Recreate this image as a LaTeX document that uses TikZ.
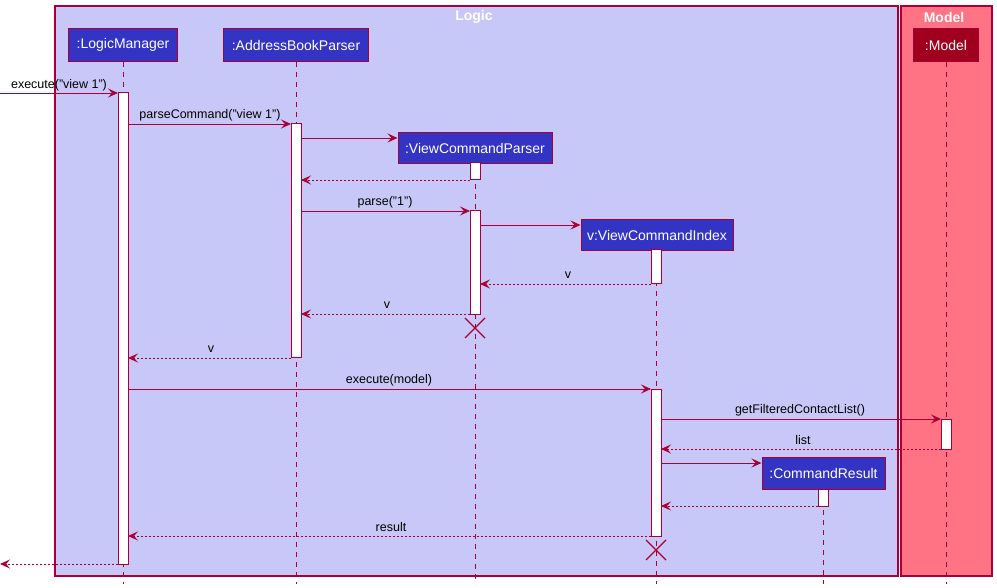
\documentclass[tikz,border=0pt]{standalone}
\usepackage{fontspec}
\setmainfont{Liberation Sans}
\usetikzlibrary{arrows.meta}
\definecolor{bord}{HTML}{A80036}
\definecolor{logicbg}{HTML}{C8C8F8}
\definecolor{modelbg}{HTML}{FF7385}
\definecolor{partblue}{HTML}{3333C4}
\definecolor{partred}{HTML}{A0001E}
\tikzset{
  grp/.style={draw=bord, line width=1.1pt},
  part/.style={draw=bord, line width=1pt, fill=partblue, text=white, font=\fontsize{14}{16}\selectfont, inner sep=0pt, minimum height=33pt, anchor=north},
  life/.style={draw=bord, line width=0.9pt, dash pattern=on 5pt off 5pt},
  actbar/.style={draw=bord, line width=1pt, fill=white},
  msg/.style={draw=bord, line width=0.9pt, -{Stealth[length=10pt,width=9pt,inset=4pt]}},
  ret/.style={msg, dash pattern=on 2pt off 2pt},
  lbl/.style={font=\fontsize{12.5}{14}\selectfont, text=black, inner sep=0pt},
  xmark/.style={draw=bord, line width=1.3pt},
  grptitle/.style={font=\bfseries\fontsize{14}{16}\selectfont, text=white, inner sep=0pt}
}
\begin{document}
\begin{tikzpicture}[x=1pt,y=-1pt]
\useasboundingbox (0,0) rectangle (997,588);
% groups
\draw[grp, fill=logicbg] (55,6) rectangle (898,576);
\draw[grp, fill=modelbg] (901,6) rectangle (992,576);
\node[grptitle] (tlogic) at (474,17) {Logic};
\node[grptitle] (tmodel) at (944,17) {Model};
% participants
\node[part, minimum width=109pt] (lm) at (123,28) {:LogicManager};
\node[part, minimum width=145pt] (abp) at (296,28) {:AddressBookParser};
\node[part, minimum width=154pt, minimum height=31pt] (vcp) at (475,132) {:ViewCommandParser};
\node[part, minimum width=152pt, minimum height=31pt] (vci) at (657,219) {v:ViewCommandIndex};
\node[part, minimum width=65pt, fill=partred] (mdl) at (946,28) {:Model};
\node[part, minimum width=123pt, minimum height=32pt] (cr) at (823.5,457) {:CommandResult};
% lifelines
\coordinate (lmE) at (123,584);
\coordinate (abpE) at (296,584);
\coordinate (vcpE) at (475,584);
\coordinate (vciE) at (656,584);
\coordinate (mdlE) at (946,584);
\coordinate (crE) at (823,584);
\draw[life] (lm.south -| lmE) -- (lmE);
\draw[life] (abp.south -| abpE) -- (abpE);
\draw[life] (vcp.south -| vcpE) -- (vcpE);
\draw[life] (vci.south -| vciE) -- (vciE);
\draw[life] (mdl.south -| mdlE) -- (mdlE);
\draw[life] (cr.south -| crE) -- (crE);
% activations
\draw[actbar] (118,93) rectangle (128,564);
\draw[actbar] (291,124) rectangle (301,358);
\draw[actbar] (470,163) rectangle (480,180);
\draw[actbar] (470,211) rectangle (480,315);
\draw[actbar] (651,250) rectangle (661,284);
\draw[actbar] (651,389) rectangle (661,536);
\draw[actbar] (941,419) rectangle (951,449);
\draw[actbar] (818,489) rectangle (828,506);
% message end points
\coordinate (m1a) at (0,93);    \coordinate (m1b) at (118,93);
\coordinate (m2a) at (128,124); \coordinate (m2b) at (291,124);
\coordinate (m3a) at (301,138);
\coordinate (m4a) at (470,180); \coordinate (m4b) at (301,180);
\coordinate (m5a) at (301,211); \coordinate (m5b) at (470,211);
\coordinate (m6a) at (480,225);
\coordinate (m7a) at (651,284); \coordinate (m7b) at (480,284);
\coordinate (m8a) at (470,314); \coordinate (m8b) at (301,314);
\coordinate (m9a) at (291,358); \coordinate (m9b) at (128,358);
\coordinate (m10a) at (128,389); \coordinate (m10b) at (651,389);
\coordinate (m11a) at (661,419); \coordinate (m11b) at (941,419);
\coordinate (m12a) at (941,449); \coordinate (m12b) at (661,449);
\coordinate (m13a) at (661,463);
\coordinate (m14a) at (818,506); \coordinate (m14b) at (661,506);
\coordinate (m15a) at (651,536); \coordinate (m15b) at (128,536);
\coordinate (m16a) at (118,564); \coordinate (m16b) at (0,564);
% messages
\draw[msg] (m1a) -- (m1b);
\node[lbl] (l1) at (59,85) {execute("view 1")};
\draw[msg] (m2a) -- (m2b);
\node[lbl] (l2) at (210,115) {parseCommand("view 1")};
\draw[msg] (m3a) -- (m3a -| vcp.west);
\draw[ret] (m4a) -- (m4b);
\draw[msg] (m5a) -- (m5b);
\node[lbl] (l5) at (385,202) {parse("1")};
\draw[msg] (m6a) -- (m6a -| vci.west);
\draw[ret] (m7a) -- (m7b);
\node[lbl] (l7) at (568,275) {v};
\draw[ret] (m8a) -- (m8b);
\node[lbl] (l8) at (387,305) {v};
\draw[ret] (m9a) -- (m9b);
\node[lbl] (l9) at (211,349) {v};
\draw[msg] (m10a) -- (m10b);
\node[lbl] (l10) at (389,380) {execute(model)};
\draw[msg] (m11a) -- (m11b);
\node[lbl] (l11) at (800,410) {getFilteredContactList()};
\draw[ret] (m12a) -- (m12b);
\node[lbl] (l12) at (803,440) {list};
\draw[msg] (m13a) -- (m13a -| cr.west);
\draw[ret] (m14a) -- (m14b);
\draw[ret] (m15a) -- (m15b);
\node[lbl] (l15) at (391,527) {result};
\draw[ret] (m16a) -- (m16b);
% destroy marks
\draw[xmark] (465,318) -- (485,338) (465,338) -- (485,318);
\draw[xmark] (646,540) -- (666,560) (646,560) -- (666,540);
\end{tikzpicture}
\end{document}
